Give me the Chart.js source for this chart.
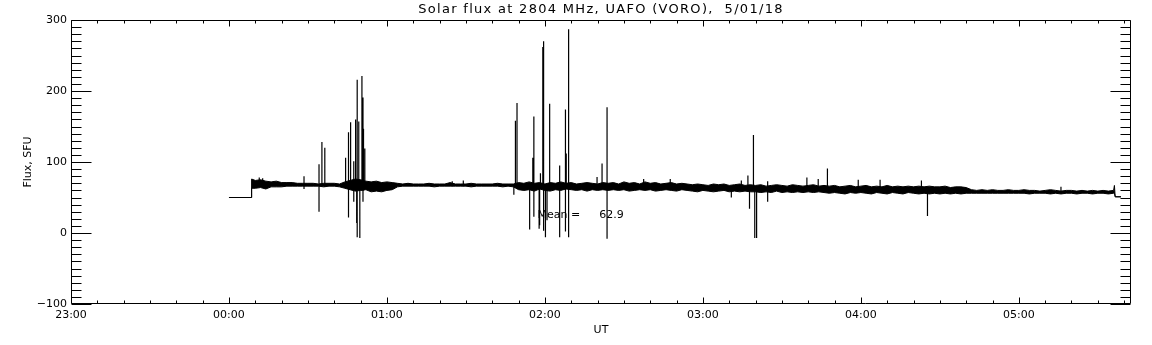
<!DOCTYPE html>
<html>
<head>
<meta charset="utf-8">
<title>Solar flux at 2804 MHz</title>
<script src="https://cdn.jsdelivr.net/npm/chart.js@4.4.1/dist/chart.umd.min.js"></script>
<style>
    html, body { margin: 0; padding: 0; background: #fff; }
    #wrap { width: 1152px; height: 345px; position: relative; }
</style>
</head>
<body>
<div id="wrap"><canvas id="chart-flux"></canvas></div>
<script>
var chart

// time in minutes after 00:00 UT
var tiempos = [0, 8.5, 8.6,
    10, 12, 14, 16, 18, 20, 22, 24, 26, 28, 30, 32, 34, 36, 38, 40, 42, 44, 46, 48,
    50, 52, 54, 56, 58, 60, 62, 64, 66, 68, 70, 72, 74, 76, 78, 80, 82, 84, 86, 88,
    90, 92, 94, 96, 98, 100, 102, 104, 106, 108, 110, 112, 114, 116, 118, 120, 122, 124, 126, 128,
    130, 132, 134, 136, 138, 140, 142, 144, 146, 148, 150, 152, 154, 156, 158, 160, 162, 164, 166, 168,
    170, 172, 174, 176, 178, 180, 182, 184, 186, 188, 190, 192, 194, 196, 198, 200, 202, 204, 206, 208,
    210, 212, 214, 216, 218, 220, 222, 224, 226, 228, 230, 232, 234, 236, 238, 240, 242, 244, 246, 248,
    250, 252, 254, 256, 258, 260, 262, 264, 266, 268, 270, 272, 274, 276, 278, 280, 282, 284, 286, 288,
    290, 292, 294, 296, 298, 300, 302, 304, 306, 308, 310, 312, 314, 316, 318, 320, 322, 324, 326, 328,
    330, 332, 334, 336, 336.3, 336.6, 338.8]

// upper / lower edge of the noisy flux band, SFU
var flujo_alto = [50, 50, 76,
    74, 75, 73, 72, 73, 71, 71, 71, 70, 70, 70, 70, 69, 70, 70, 70, 69, 72, 74, 76,
    75, 73, 72, 73, 71, 72, 71, 70, 69, 70, 69, 69, 69, 70, 69, 69, 69, 71, 69, 69,
    69, 70, 69, 69, 69, 69, 70, 69, 69, 69, 71, 70, 72, 70, 71, 69, 71, 70, 72, 70,
    71, 69, 70, 71, 70, 69, 71, 70, 71, 69, 72, 70, 71, 69, 72, 70, 71, 69, 70, 71,
    69, 70, 69, 68, 69, 68, 67, 69, 68, 69, 67, 68, 69, 67, 68, 67, 68, 66, 67, 68,
    67, 66, 68, 67, 66, 67, 68, 66, 67, 66, 67, 65, 66, 67, 65, 66, 67, 65, 66, 65,
    67, 65, 66, 65, 66, 65, 66, 65, 66, 65, 65, 66, 64, 65, 65, 64, 61, 60, 61, 60,
    61, 60, 60, 61, 60, 60, 61, 60, 60, 59, 60, 61, 60, 59, 60, 60, 59, 60, 59, 60,
    59, 60, 59, 60, 67, 51, 51]

var flujo_bajo = [50, 50, 63,
    63, 64, 62, 65, 65, 65, 66, 66, 66, 66, 66, 66, 66, 65, 66, 66, 65, 63, 61, 59,
    60, 61, 58, 59, 58, 60, 61, 65, 66, 66, 66, 66, 66, 66, 65, 66, 66, 66, 66, 66,
    66, 65, 66, 66, 66, 66, 66, 65, 66, 65, 61, 60, 61, 59, 62, 60, 59, 61, 60, 62,
    61, 60, 61, 59, 61, 60, 61, 60, 61, 60, 61, 59, 60, 61, 60, 61, 59, 60, 61, 60,
    59, 61, 60, 59, 58, 60, 59, 58, 59, 60, 58, 59, 58, 59, 58, 58, 57, 58, 57, 59,
    57, 58, 57, 58, 57, 58, 57, 58, 57, 56, 57, 56, 55, 57, 56, 57, 56, 55, 57, 56,
    55, 57, 56, 55, 57, 56, 55, 56, 55, 56, 55, 56, 55, 56, 55, 56, 56, 56, 56, 56,
    56, 56, 56, 56, 56, 56, 56, 55, 56, 56, 56, 55, 56, 55, 56, 56, 55, 56, 56, 55,
    56, 56, 55, 56, 56, 51, 51]

// single-sample bursts: time, low end, high end
var pico_t = [11.5, 12.8, 28.5, 34.2, 35.3, 36.4, 44.3, 45.4, 46.2, 47.4, 48.1, 48.5, 48.7, 49.3, 49.7,
    50.5, 50.9, 51.1, 51.6, 84.8, 89, 108.2, 108.8, 109.4, 114.2, 115.4, 115.8, 117.8, 118.0,
    118.3, 119.2, 119.5, 120.2, 120.8, 121.8, 125.6, 127.8, 128.1, 129.0, 139.8, 141.7, 143.6,
    157.5, 167.6, 190.8, 194.6, 197.1, 197.7, 199.2, 199.7, 200.4, 204.6, 219.5, 223.8, 227.3,
    239.0, 247.3, 263.0, 265.3, 316.0]
var pico_bajo = [66, 66, 62, 30, 66, 65, 66, 22, 66, 44, 66, 14, -6, 66, -7,
    60, 44, 60, 62, 66, 66, 54, 64, 64, 5, 64, 23, 6, 11,
    64, 64, 3, -6, 18, 64, -6, 2, 64, -6, 64, 64, -8,
    64, 64, 50, 64, 64, 34, 64, -7, -7, 44, 62, 62, 62,
    60, 60, 60, 24, 58]
var pico_alto = [78, 77, 80, 97, 128, 120, 106, 142, 156, 101, 160, 66, 216, 157, 66,
    221, 191, 147, 119, 73, 74, 66, 158, 183, 66, 106, 164, 66, 66,
    84, 262, 270, 66, 66, 182, 95, 174, 112, 287, 79, 98, 177,
    76, 76, 64, 74, 81, 64, 138, 64, 64, 73, 78, 76, 91,
    75, 75, 74, 62, 65]

var MEDIA = 62.9
var TITULO = "Solar flux at 2804 MHz, UAFO (VORO),  5/01/18"
var horas = ["23:00", "00:00", "01:00", "02:00", "03:00", "04:00", "05:00"]
var flujo_labels = ["\u2212100", "0", "100", "200", "300"]

var FUENTE = "DejaVu Sans"

function armar_banda(valores){
    var out = []
    for(var i=0; i<tiempos.length; i++){
        out.push({x: tiempos[i], y: valores[i]})
    }
    return out
}

function armar_picos(){
    var out = []
    for(var i=0; i<pico_t.length; i++){
        out.push({x: pico_t[i], y: pico_bajo[i]})
        out.push({x: pico_t[i], y: pico_alto[i]})
        out.push({x: pico_t[i], y: null})
    }
    return out
}

// IDL style box with inward ticks on all four sides, title and the mean label
var marcas = {
    id: 'marcas',
    afterDatasetsDraw: function(ch){
        var ctx = ch.ctx
        var a = ch.chartArea
        var sx = ch.scales.x
        var sy = ch.scales.y
        var L = Math.round(a.left) + 0.5
        var R = Math.round(a.right) - 0.5
        var T = Math.round(a.top) + 0.5
        var B = Math.round(a.bottom) - 0.5
        ctx.save()
        ctx.strokeStyle = "#000"
        ctx.lineWidth = 1
        ctx.beginPath()
        ctx.rect(L, T, R - L, B - T)
        for(var v=-100; v<=300; v+=10){
            var py = Math.round(sy.getPixelForValue(v)) + 0.5
            var len = (v % 100 == 0) ? 20 : 10
            ctx.moveTo(L, py); ctx.lineTo(L + len, py)
            ctx.moveTo(R, py); ctx.lineTo(R - len, py)
        }
        for(var m=-60; m<=sx.max; m+=10){
            var px = Math.round(sx.getPixelForValue(m)) + 0.5
            var l2 = (m % 60 == 0) ? 6 : 3
            ctx.moveTo(px, B); ctx.lineTo(px, B - l2)
            ctx.moveTo(px, T); ctx.lineTo(px, T + l2)
        }
        ctx.stroke()

        ctx.fillStyle = "#000"
        ctx.font = "11px '" + FUENTE + "'"
        ctx.textBaseline = "middle"
        ctx.textAlign = "left"
        ctx.fillText("Mean =", sx.getPixelForValue(117.2), sy.getPixelForValue(25.2))
        ctx.fillText(MEDIA.toFixed(1), sx.getPixelForValue(140.6), sy.getPixelForValue(25.2))

        // title, spread out a bit like the IDL vector font
        ctx.font = "13px '" + FUENTE + "'"
        ctx.letterSpacing = "1.3px"
        ctx.textAlign = "center"
        ctx.fillText(TITULO, (a.left + a.right) / 2, 10)
        ctx.restore()
    }
}

function init_chart(){
    Chart.defaults.font.family = FUENTE
    Chart.defaults.font.size = 11
    Chart.defaults.color = "#000"

    chart = new Chart(document.getElementById("chart-flux"), {
        type: 'line',
        data: {
            datasets: [{
                label: 'alto',
                data: armar_banda(flujo_alto),
                borderColor: "#000",
                borderWidth: 1,
                pointRadius: 0,
                fill: false,
            }, {
                label: 'bajo',
                data: armar_banda(flujo_bajo),
                borderColor: "#000",
                backgroundColor: "#000",
                borderWidth: 1,
                pointRadius: 0,
                fill: '-1',
            }, {
                label: 'picos',
                data: armar_picos(),
                borderColor: "#000",
                borderWidth: 1.2,
                pointRadius: 0,
                spanGaps: false,
                fill: false,
            }],
        },
        options: {
            responsive: true,
            maintainAspectRatio: false,
            animation: false,
            events: [],
            layout: { padding: { left: 0, right: 21, top: 20, bottom: 0 } },
            plugins: {
                legend: { display: false },
                tooltip: { enabled: false },
                title: { display: false },
            },
            scales: {
                x: {
                    type: 'linear',
                    min: -60,
                    max: 342.6,
                    grid: { display: false, drawTicks: false },
                    border: { display: false },
                    ticks: {
                        stepSize: 60,
                        includeBounds: false,
                        maxRotation: 0,
                        padding: 5,
                        autoSkip: false,
                        callback: function(v){ return horas[Math.round((v + 60) / 60)] },
                    },
                    title: { display: true, text: "UT", padding: { top: 0, bottom: 8.4 } },
                    afterFit: function(s){ s.height = 41 },
                },
                y: {
                    min: -100,
                    max: 300,
                    grid: { display: false, drawTicks: false },
                    border: { display: false },
                    ticks: {
                        stepSize: 100,
                        padding: 4,
                        callback: function(v){ return flujo_labels[Math.round((v + 100) / 100)] },
                    },
                    title: { display: true, text: "Flux, SFU", padding: { top: 21.4, bottom: 0 } },
                    afterFit: function(s){ s.width = 71 },
                },
            },
        },
        plugins: [marcas],
    })
}

init_chart()
</script>
</body>
</html>
